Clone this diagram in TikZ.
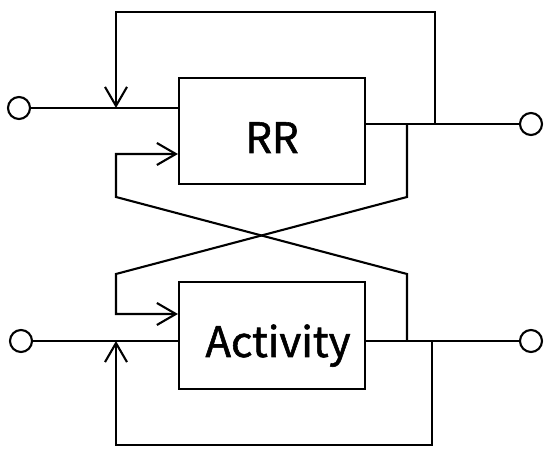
\documentclass[tikz,border=0pt]{standalone}
\usepackage{fontspec}
\newfontfamily\jpfont[FakeBold=1.3]{Noto Sans CJK JP}
\usetikzlibrary{arrows.meta}
\begin{document}
\begin{tikzpicture}[x=1pt,y=1pt,
  wire/.style={line width=2.1pt,black},
  arr/.style={wire,-{Straight Barb[length=19pt,width=22pt,line width=2.1pt]}},
  blk/.style={draw,line width=2.1pt,minimum width=186pt,minimum height=106pt,inner sep=0pt},
  term/.style={circle,draw,line width=2.1pt,minimum size=22pt,inner sep=0pt,fill=white},
  lbl/.style={font=\jpfont\fontsize{42}{48}\selectfont,anchor=base,inner sep=0pt}]
\useasboundingbox (0,0) rectangle (550,454);
% blocks
\node[blk] (rr) at (272,323) {};
\node[blk,minimum height=107pt] (act) at (272,118.5) {};
\node[lbl] (rrtxt) at (272,301) {RR};
\node[lbl] (acttxt) at (278,97) {Activity};
% terminals
\node[term] (in1) at (19,346) {};
\node[term] (in2) at (21,113) {};
\node[term] (out1) at (531,330) {};
\node[term] (out2) at (531,113) {};
% helper coordinates
\coordinate (fbA) at (435,330);
\coordinate (fbA1) at (435,442);
\coordinate (fbA2) at (116,442);
\coordinate (fbAin) at (116,346);
\coordinate (fbB) at (432,113);
\coordinate (fbB1) at (432,9);
\coordinate (fbB2) at (116,9);
\coordinate (fbBin) at (116,113);
\coordinate (tapA) at (407,330);
\coordinate (tapA1) at (407,257);
\coordinate (tapB) at (407,113);
\coordinate (tapB1) at (407,180);
\coordinate (xA1) at (116,257);
\coordinate (xA2) at (116,300);
\coordinate (xB1) at (116,180);
\coordinate (xB2) at (116,140);
% input / output lines
\draw[wire] (in1) -- (in1 -| rr.west);
\draw[wire] (rr.east |- out1) -- (out1);
\draw[wire] (in2) -- (in2 -| act.west);
\draw[wire] (act.east |- out2) -- (out2);
% self feedback loops
\draw[arr] (fbA) -- (fbA1) -- (fbA2) -- (fbAin);
\draw[arr] (fbB) -- (fbB1) -- (fbB2) -- (fbBin);
% cross coupling
\draw[arr] (tapB) -- (tapB1) -- (xA1) -- (xA2) -- (xA2 -| rr.west);
\draw[arr] (tapA) -- (tapA1) -- (xB1) -- (xB2) -- (xB2 -| act.west);
\end{tikzpicture}
\end{document}
